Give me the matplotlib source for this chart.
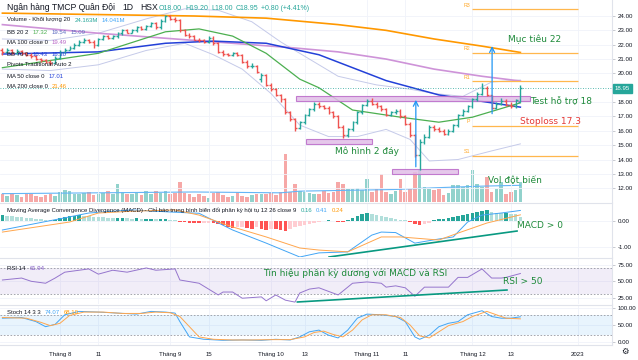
import matplotlib.pyplot as plt
import matplotlib.transforms as mtransforms
from matplotlib.patches import Rectangle

plt.rcParams['font.family'] = ['DejaVu Sans']

# ---- daily bars (index 0 = mid July 2022, 108 = 15 Dec 2022) ----
opens = [21.6, 21.5, 21.6, 21.45, 21.55, 21.4, 21.3, 21.2, 21.0, 20.9, 20.8, 20.75,
         21.05, 21.5, 21.65, 21.8, 22.0, 22.2, 22.3, 22.2, 21.95, 22.4, 22.6, 22.5,
         22.6, 22.8, 23.0, 22.85, 23.0, 23.2, 23.1, 23.3, 23.5, 23.2, 23.65, 24.0,
         23.8, 23.7, 23.05, 22.7, 22.6, 22.35, 22.3, 22.2, 22.5, 22.1, 21.5, 21.35,
         21.3, 21.4, 21.3, 20.8, 20.5, 20.55, 19.6, 19.9, 19.2, 18.9, 18.5, 18.2,
         17.3, 16.8, 16.2, 16.6, 17.1, 17.5, 17.9, 17.7, 17.6, 17.3, 17.0, 16.3,
         15.7, 16.1, 16.6, 17.3, 17.8, 18.1, 17.9, 17.7, 17.5, 17.1, 17.3, 17.4,
         17.0, 16.5, 15.7, 14.3, 15.2, 15.6, 16.3, 16.1, 16.0, 15.8, 16.0, 16.4,
         17.1, 17.4, 17.7, 18.2, 18.6, 19.0, 18.5, 17.6, 17.9, 18.1, 17.8, 17.7, 18.0]
highs = [21.8, 21.75, 21.7, 21.7, 21.65, 21.5, 21.4, 21.3, 21.1, 21.0, 20.9, 21.2,
         21.6, 21.8, 21.9, 22.1, 22.3, 22.45, 22.4, 22.3, 22.5, 22.7, 22.7, 22.7,
         22.9, 23.1, 23.1, 23.1, 23.3, 23.3, 23.4, 23.6, 23.6, 23.8, 24.1, 24.1,
         23.9, 23.8, 23.1, 22.8, 22.7, 22.5, 22.4, 22.6, 22.6, 22.2, 21.6, 21.45,
         21.5, 21.5, 21.35, 20.9, 20.7, 20.6, 20.0, 19.95, 19.3, 19.0, 18.6, 18.3,
         17.4, 16.9, 16.7, 17.2, 17.6, 18.0, 18.0, 17.8, 17.7, 17.4, 17.1, 16.4,
         16.2, 16.7, 17.4, 17.9, 18.2, 18.3, 18.0, 17.8, 17.6, 17.4, 17.5, 17.5,
         17.1, 16.6, 15.8, 15.4, 15.8, 16.4, 16.4, 16.3, 16.1, 16.1, 16.5, 17.2,
         17.5, 17.8, 18.3, 18.7, 19.3, 19.1, 18.5, 18.0, 18.3, 18.2, 18.0, 18.2, 19.2]
lows = [21.3, 21.4, 21.35, 21.35, 21.3, 21.2, 21.1, 20.9, 20.8, 20.7, 20.6, 20.7,
        21.0, 21.4, 21.6, 21.7, 21.9, 22.1, 22.1, 21.8, 21.9, 22.3, 22.4, 22.4,
        22.5, 22.7, 22.8, 22.8, 22.9, 23.0, 23.0, 23.2, 23.1, 23.1, 23.6, 23.7,
        23.6, 22.9, 22.6, 22.5, 22.3, 22.2, 22.1, 22.1, 22.0, 21.4, 21.2, 21.2,
        21.2, 21.2, 20.7, 20.4, 20.4, 20.0, 19.4, 19.1, 18.8, 18.4, 18.0, 17.2,
        16.7, 16.0, 16.1, 16.5, 17.0, 17.4, 17.6, 17.5, 17.2, 16.9, 16.2, 15.5,
        15.6, 16.0, 16.5, 17.2, 17.7, 17.8, 17.6, 17.4, 17.0, 17.0, 17.2, 16.9,
        16.4, 15.6, 14.2, 13.3, 15.1, 15.5, 16.0, 15.9, 15.7, 15.7, 15.9, 16.3,
        17.0, 17.3, 17.6, 18.1, 18.5, 18.4, 17.5, 17.5, 17.8, 17.7, 17.6, 17.6, 18.0]
closes = [21.5, 21.6, 21.45, 21.55, 21.4, 21.3, 21.2, 21.0, 20.9, 20.8, 20.75, 21.05,
          21.5, 21.65, 21.8, 22.0, 22.2, 22.3, 22.2, 21.95, 22.4, 22.6, 22.5, 22.6,
          22.8, 23.0, 22.85, 23.0, 23.2, 23.1, 23.3, 23.5, 23.2, 23.65, 24.0, 23.8,
          23.7, 23.05, 22.7, 22.6, 22.35, 22.3, 22.2, 22.5, 22.1, 21.5, 21.35, 21.3,
          21.4, 21.3, 20.8, 20.5, 20.55, 20.1, 19.9, 19.2, 18.9, 18.5, 18.2, 17.3,
          16.8, 16.2, 16.6, 17.1, 17.5, 17.9, 17.7, 17.6, 17.3, 17.0, 16.3, 15.7,
          16.1, 16.6, 17.3, 17.8, 18.1, 17.9, 17.7, 17.5, 17.1, 17.3, 17.4, 17.0,
          16.5, 15.7, 14.3, 15.2, 15.6, 16.3, 16.1, 16.0, 15.8, 16.0, 16.4, 17.1,
          17.4, 17.7, 18.2, 18.6, 19.0, 18.5, 17.6, 17.9, 18.1, 17.8, 17.7, 18.15, 18.95]
volumes = [9, 7, 11, 8, 6, 10, 9, 7, 6, 8, 10, 7,
           12, 14, 13, 10, 9, 11, 12, 8, 10, 11, 13, 9,
           22, 12, 10, 9, 11, 8, 13, 9, 13, 11,
           13, 10, 11, 24, 11, 10, 6, 9, 7, 5, 11,
           12, 8, 6, 7, 12, 7, 6, 8, 9, 10, 9, 11, 8, 12,
           58, 12, 22, 13, 12, 11, 10, 9, 13, 11, 12, 24,
           22, 16, 15, 17, 14, 28, 12, 15, 34, 12, 10, 13,
           28, 12, 16, 36, 38, 18, 16, 14, 15, 8, 11, 20,
           20, 18, 20, 38, 22, 18, 30, 12, 15, 24, 10, 12, 14, 24.16]
macd_hist = [0.22, 0.2, 0.18, 0.16, 0.14, 0.12, 0.1, 0.08, 0.06, 0.05, 0.04, 0.05,
             0.1, 0.14, 0.18, 0.2, 0.22, 0.2, 0.18, 0.16, 0.15, 0.14, 0.12,
             0.1, 0.11, 0.12, 0.1, 0.09, 0.1, 0.08, 0.08, 0.09, 0.06, 0.07, 0.08, 0.05,
             0.02, -0.03, -0.05, -0.06, -0.08, -0.08, -0.07, -0.06, -0.08,
             -0.12, -0.15, -0.22, -0.29, -0.25, -0.22, -0.28, -0.3, -0.25, -0.32, -0.35,
             -0.3, -0.33, -0.35, -0.38, -0.3, -0.25, -0.2, -0.15, -0.1, -0.08, -0.05,
             0.01, 0.02, 0.01, -0.02, -0.03,
             0.05, 0.12, 0.2, 0.26, 0.3, 0.29, 0.25, 0.2,
             0.15, 0.12, 0.08, 0.05, 0.02,
             -0.05, -0.12, -0.16, -0.12, -0.08,
             0.03, 0.06, 0.08, 0.1,
             0.14, 0.18, 0.22, 0.26, 0.3, 0.34, 0.4,
             0.42, 0.35, 0.32, 0.3, 0.3, 0.29, 0.28, 0.16]

# ---- indicator lines at sample bars ----
ma200_i = [0, 40, 55, 70, 80, 90, 100, 108]
ma200_v = [24.2, 24.0, 23.85, 23.4, 23.0, 22.4, 21.9, 21.46]
ma100_i = [0, 20, 40, 60, 70, 80, 90, 100, 108]
ma100_v = [23.4, 22.8, 22.3, 21.8, 21.5, 21.0, 20.3, 19.8, 19.47]
blue_i = [0, 20, 34, 44, 55, 66, 80, 91, 108]
blue_v = [21.35, 21.5, 22.1, 22.25, 22.1, 21.3, 19.5, 18.5, 17.65]
green_i = [0, 20, 34, 41, 48, 55, 62, 66, 73, 83, 91, 98, 108]
green_v = [20.4, 21.4, 22.9, 23.1, 22.6, 21.4, 19.6, 19.0, 17.45, 16.95, 16.6, 16.95, 17.95]
bbu_i = [0, 10, 20, 30, 38, 45, 52, 58, 64, 70, 78, 85, 90, 96, 102, 108]
bbu_v = [22.4, 22.3, 22.8, 23.8, 24.5, 24.4, 23.6, 22.2, 21.0, 19.8, 19.2, 18.9, 18.6, 18.4, 19.4, 19.54]
bbl_i = [0, 10, 20, 30, 38, 44, 50, 56, 62, 68, 74, 80, 85, 89, 95, 102, 108]
bbl_v = [20.3, 20.2, 20.6, 21.6, 22.1, 21.3, 20.3, 18.6, 16.4, 15.6, 15.6, 16.1, 15.4, 13.9, 14.0, 14.6, 15.09]
volma_i = [0, 20, 40, 58, 62, 72, 82, 90, 100, 108]
volma_v = [10, 11, 12, 11, 13, 14, 15, 17, 19, 20]

macd_i = [0, 14, 18, 27, 35, 41, 48, 55, 62, 66, 72, 77, 79, 82, 86, 91, 94, 97, 100, 104, 108]
macd_v = [-0.35, 0.16, 0.31, 0.43, 0.35, 0.3, -0.35, -0.86, -1.4, -1.24, -1.2, -0.55,
          -0.43, -0.45, -0.86, -0.7, -0.62, -0.04, 0.23, 0.31, 0.41]
signal_i = [0, 14, 20, 27, 36, 41, 48, 55, 62, 66, 72, 79, 83, 91, 95, 101, 108]
signal_v = [-0.43, -0.04, 0.31, 0.38, 0.43, 0.23, -0.23, -0.62, -1.05, -1.13, -1.2,
            -0.62, -0.62, -0.74, -0.47, -0.08, 0.24]

rsi_i = [0, 4, 6, 9, 11, 13, 18, 20, 23, 26, 30, 32, 36, 37, 41, 45, 46, 48, 50, 54, 55,
         57, 59, 61, 62, 64, 66, 70, 73, 76, 79, 80, 82, 84, 86, 88, 93, 95, 97, 100,
         102, 104, 105, 108]
rsi_v = [52, 55, 50, 47, 55, 64, 69, 61, 67, 64, 70.5, 67, 69, 52, 47, 29, 33.5, 33.5,
         24, 26, 20, 29, 21, 18, 32, 38, 40, 29, 47, 49, 47, 41, 43, 40, 27, 41, 41, 56,
         56, 69, 55, 55, 56, 61.94]

stk_i = [0, 4, 7, 9, 11, 13, 16, 20, 24, 28, 31, 34, 36, 37, 39, 42, 46, 50, 54, 57, 60,
         62, 64, 66, 68, 70, 72, 74, 76, 79, 82, 84, 86, 87, 89, 91, 93, 95, 97, 100,
         102, 104, 106, 108]
stk_v = [70, 72, 60, 45, 52, 80, 90, 88, 85, 82, 90, 88, 85, 60, 15, 8, 5, 6, 5, 8, 6,
         15, 30, 35, 20, 12, 35, 70, 82, 80, 75, 60, 15, 8, 20, 45, 55, 60, 80, 92,
         75, 70, 70, 74.07]
std_i = [0, 5, 8, 10, 12, 14, 17, 21, 25, 29, 32, 35, 37, 39, 41, 44, 48, 52, 56, 60, 63,
         65, 67, 69, 71, 73, 75, 77, 80, 83, 85, 87, 89, 91, 93, 96, 98, 101, 103, 105, 108]
std_v = [72, 70, 58, 48, 55, 78, 88, 88, 84, 84, 88, 86, 75, 45, 15, 8, 6, 6, 7, 7, 15,
         28, 32, 22, 15, 35, 65, 80, 80, 72, 50, 18, 12, 30, 48, 60, 75, 90, 80, 70, 68.1]

# pivots (Dec), zones, arrows
pivot_names = ['R3', 'R2', 'R1', 'P', 'S1']
pivot_levels = [24.46, 21.45, 19.45, 16.35, 14.25]
zones = [(61.2, 110.0, 18.11, 18.46), (63.3, 77.1, 15.08, 15.43), (81.2, 95.0, 13.0, 13.34)]
arrows = [(86.2, 13.3, 18.35), (102.1, 17.0, 22.1)]

# price-axis labels (19.00 is hidden behind the last-price tag)
price_ticks = [12, 13, 14, 15, 16, 17, 18, 20, 21, 22, 23, 24]
tick_pos = [12, 20, 35, 43, 56, 63, 76, 84, 98, 106, 120]
tick_lab = ['Tháng 8', '11', 'Tháng 9', '15', 'Tháng 10', '13', 'Tháng 11', '11',
            'Tháng 12', '13', '2023']

UP, DOWN = '#26a69a', '#ef5350'
GRID = '#f0f3fa'
BORDER = '#e0e3eb'
GREEN_TXT = '#1e8a3a'
SMALL = 'Liberation Sans'
W, H = 638, 360
XMAX = 127.1


def box(y0, y1):
    # pane from pixel row y0 to y1, price axis at x=612
    return [0, 1 - y1 / H, 612 / W, (y1 - y0) / H]


def style(ax, yticks, fmt='{:.2f}'):
    ax.set_xlim(-0.5, XMAX)
    for s in ['left', 'bottom', 'top']:
        ax.spines[s].set_visible(False)
    ax.spines['right'].set_color(BORDER)
    ax.spines['right'].set_linewidth(0.8)
    ax.yaxis.tick_right()
    ax.set_yticks(yticks)
    ax.set_yticklabels([fmt.format(v) for v in yticks], fontfamily=SMALL)
    ax.tick_params(axis='y', labelsize=4.4, colors='#b2b5be', labelcolor='#131722',
                   length=2, width=0.5, pad=2)
    ax.set_xticks(tick_pos)
    ax.tick_params(axis='x', length=0, labelbottom=False)
    ax.grid(True, color=GRID, lw=0.6)
    ax.set_axisbelow(True)


fig = plt.figure(figsize=(W / 100, H / 100), dpi=100)
fig.patch.set_facecolor('white')

n = len(closes)
idx = list(range(n))
bcol = [UP if closes[i] >= opens[i] else DOWN for i in idx]

# ---------------- volume (behind price) ----------------
axv = fig.add_axes(box(0, 202))
axv.set_xlim(-0.5, XMAX)
axv.set_ylim(0, 242)
axv.axis('off')
axv.bar(idx, volumes, width=0.75, color=bcol, alpha=0.5, zorder=1)
axv.plot(volma_i, volma_v, color='#64b5f6', lw=0.8)

# ---------------- price pane ----------------
ax = fig.add_axes(box(0, 202))
style(ax, price_ticks)
ax.set_ylim(11.04, 25.115)
ax.patch.set_visible(False)

ax.plot(bbu_i, bbu_v, color='#c5cae9', lw=0.7)
ax.plot(bbl_i, bbl_v, color='#c5cae9', lw=0.7)
ax.plot(ma200_i, ma200_v, color='#ff9800', lw=1.2)
ax.plot(ma100_i, ma100_v, color='#ce93d8', lw=1.2)
ax.plot(blue_i, blue_v, color='#2340d8', lw=1.1)
ax.plot(green_i, green_v, color='#4caf50', lw=0.9)

ax.vlines(idx, lows, highs, colors=bcol, lw=1.0, zorder=4)
ax.hlines(opens, [i - 0.4 for i in idx], idx, colors=bcol, lw=1.0, zorder=4)
ax.hlines(closes, idx, [i + 0.4 for i in idx], colors=bcol, lw=1.0, zorder=4)

for name, lv in zip(pivot_names, pivot_levels):
    ax.hlines(lv, 98, 120, color='#ffb74d', lw=0.9)
    ax.text(97.5, lv + 0.12, name, color='#ffa726', fontsize=3.8, ha='right', va='bottom',
            family=SMALL)

for x0, x1, y0, y1 in zones:
    ax.add_patch(Rectangle((x0, y0), x1 - x0, y1 - y0, facecolor='#e1bee7',
                           edgecolor='#ba68c8', lw=0.8, alpha=0.85, zorder=3))

for xa, ya0, ya1 in arrows:
    ax.annotate('', xy=(xa, ya1), xytext=(xa, ya0),
                arrowprops=dict(arrowstyle='->', color='#2196f3', lw=0.9,
                                mutation_scale=9), zorder=5)

last = closes[-1]
ax.axhline(last, color=UP, lw=0.6, ls=(0, (1, 2)), zorder=2)
btr = mtransforms.blended_transform_factory(ax.transAxes, ax.transData)
ax.text(1.004, last, f'{last:.2f}', transform=btr, fontsize=4.4, color='white',
        va='center', ha='left', family=SMALL,
        bbox=dict(boxstyle='square,pad=0.3', fc=UP, ec=UP))

ax.text(105.4, 22.4, 'Mục tiêu 22', color=GREEN_TXT, fontsize=6.5, va='center')
ax.text(110.0, 18.0, 'Test hỗ trợ 18', color=GREEN_TXT, fontsize=6.5, va='center')
ax.text(107.9, 16.68, 'Stoploss 17.3', color='#e53935', fontsize=6.5, va='center')
ax.text(101.3, 12.5, 'Vol đột biến', color=GREEN_TXT, fontsize=6.5, va='center')
ax.text(69.4, 14.6, 'Mô hình 2 đáy', color=GREEN_TXT, fontsize=6.5, va='center')

# ---------------- MACD pane ----------------
am = fig.add_axes(box(203, 257))
style(am, [0, -1])
am.set_ylim(-1.40, 0.70)
am.spines['top'].set_visible(True)
am.spines['top'].set_color(BORDER)
hcol = []
for i, h in enumerate(macd_hist):
    prev = macd_hist[i - 1] if i > 0 else h
    if h >= 0:
        hcol.append('#26a69a' if h >= prev else '#b2dfdb')
    else:
        hcol.append('#ff5252' if h <= prev else '#ffcdd2')
am.bar(idx, macd_hist, width=0.75, color=hcol, zorder=2)
am.plot(macd_i, macd_v, color='#42a5f5', lw=0.7, zorder=3)
am.plot(signal_i, signal_v, color='#ffa64d', lw=0.7, zorder=3)
am.plot([68.1, 107.3], [-1.40, -0.39], color='#089981', lw=1.2, zorder=4)
am.text(107.3, -0.16, 'MACD > 0', color=GREEN_TXT, fontsize=6.5, va='center')

# ---------------- RSI pane ----------------
ar = fig.add_axes(box(258, 304))
style(ar, [75, 50, 25])
ar.set_ylim(15.1, 85.8)
ar.spines['top'].set_visible(True)
ar.spines['top'].set_color(BORDER)
ar.axhspan(30, 70, color='#7e57c2', alpha=0.1, lw=0)
for lv in (70, 30):
    ar.axhline(lv, color='#9598a1', lw=0.6, ls=(0, (2, 2)))
ar.plot(rsi_i, rsi_v, color='#9575cd', lw=0.7)
ar.plot([61.5, 105.2], [18.2, 36.6], color='#089981', lw=1.2)
ar.text(54.4, 62.8, 'Tín hiệu phân kỳ dương với MACD và RSI', color=GREEN_TXT,
        fontsize=6.5, va='center')
ar.text(104.4, 49, 'RSI > 50', color=GREEN_TXT, fontsize=6.5, va='center')

# ---------------- Stoch pane ----------------
ast = fig.add_axes(box(305, 345))
style(ast, [100, 50, 0])
ast.set_ylim(-8.8, 108.8)
ast.spines['top'].set_visible(True)
ast.spines['top'].set_color(BORDER)
ast.axhspan(20, 80, color='#2196f3', alpha=0.1, lw=0)
for lv in (80, 20):
    ast.axhline(lv, color='#9598a1', lw=0.6, ls=(0, (2, 2)))
ast.plot(stk_i, stk_v, color='#42a5f5', lw=0.7)
ast.plot(std_i, std_v, color='#ffa64d', lw=0.7)
ast.tick_params(axis='x', labelbottom=True, labelsize=4.4, labelcolor='#131722', pad=5)
ast.set_xticklabels(tick_lab, fontfamily=SMALL)

# bottom border under stoch pane
fig.add_artist(plt.Line2D([0, 612 / W], [1 - 345 / H, 1 - 345 / H], color=BORDER, lw=0.8))
fig.text(625 / W, 1 - 351 / H, '⚙', fontsize=6, color='#131722', ha='center', va='center')

# ---------------- legends: pieces placed one after another ----------------
renderer = fig.canvas.get_renderer()


def chain(x, y, parts, fs=4.3, gap=4):
    for s, c in parts:
        txt = fig.text(x / W, 1 - y / H, s, color=c, fontsize=fs, va='center',
                       ha='left', family=SMALL)
        x = txt.get_window_extent(renderer).x1 + gap


DARK = '#131722'
chain(7, 8, [('Ngân hàng TMCP Quân Đội', DARK), ('1D', DARK), ('HSX', DARK)], fs=6.2, gap=7)
chain(159, 8, [('O18.00', UP), ('H19.20', UP), ('L18.00', UP), ('C18.95', UP),
               ('+0.80 (+4.41%)', UP)], fs=5.0, gap=3)
chain(7, 20, [('Volume - Khối lượng 20', DARK), ('24.163M', UP), ('14.041M', '#42a5f5')])
chain(7, 32, [('BB 20 2', DARK), ('17.32', '#4caf50'), ('19.54', '#5c6bc0'),
              ('15.09', '#5c6bc0')])
chain(7, 43, [('MA 100 close 0', DARK), ('19.49', '#ba68c8')])
chain(7, 54, [('BB 70 0', DARK), ('18.43', '#2340d8'), ('16.30', '#2340d8')])
chain(7, 65, [('Pivots Traditional Auto 2', DARK)])
chain(7, 76, [('MA 50 close 0', DARK), ('17.01', '#2340d8')])
chain(7, 87, [('MA 200 close 0', DARK), ('21.46', '#ff9800')])

chain(7, 210, [('Moving Average Convergence Divergence (MACD) - Chỉ báo trung bình '
                'biến đổi phân kỳ hội tụ 12 26 close 9', DARK),
               ('0.16', UP), ('0.41', '#42a5f5'), ('0.24', '#ff9800')])
chain(7, 269, [('RSI 14', DARK), ('61.94', '#7e57c2')])
chain(7, 313, [('Stoch 14 3 3', DARK), ('74.07', '#42a5f5'), ('68.10', '#ff9800')])

fig.savefig('out.png', dpi=100, facecolor='white')
